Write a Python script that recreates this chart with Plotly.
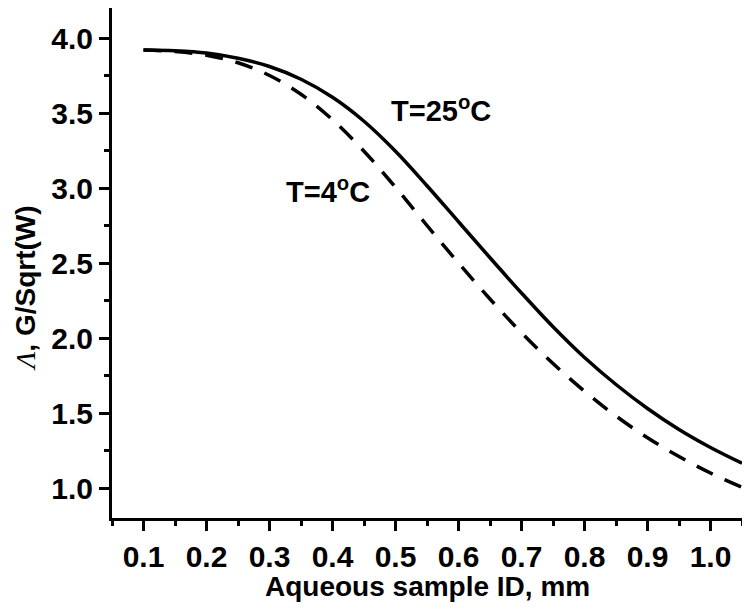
import plotly.graph_objects as go

# sample inner diameter, mm
sample_id = [0.10, 0.15, 0.20, 0.25, 0.30, 0.35, 0.40, 0.45, 0.50, 0.55,
             0.60, 0.65, 0.70, 0.75, 0.80, 0.85, 0.90, 0.95, 1.00, 1.05]

# Lambda, G/Sqrt(W)
lambda_25c = [3.92, 3.915, 3.90, 3.865, 3.81, 3.725, 3.605, 3.445, 3.245, 3.015,
              2.775, 2.535, 2.30, 2.075, 1.87, 1.69, 1.53, 1.39, 1.27, 1.165]
lambda_4c = [3.92, 3.91, 3.885, 3.835, 3.75, 3.625, 3.455, 3.245, 3.005, 2.75,
             2.50, 2.26, 2.035, 1.83, 1.645, 1.48, 1.335, 1.21, 1.10, 1.005]

font_family = "Liberation Sans, Arial, sans-serif"
bold = dict(family=font_family, size=28, color="black", weight="bold")
tick_font = dict(family=font_family, size=30, color="black", weight="bold")

fig = go.Figure()

fig.add_trace(go.Scatter(
    x=sample_id, y=lambda_25c, mode="lines", name="T=25C",
    line=dict(color="black", width=3.5, shape="spline"),
))
fig.add_trace(go.Scatter(
    x=sample_id, y=lambda_4c, mode="lines", name="T=4C",
    line=dict(color="black", width=3.5, shape="spline", dash="18px,13px"),
))

axis_common = dict(
    showgrid=False,
    zeroline=False,
    showline=True,
    linecolor="black",
    linewidth=3,
    mirror=False,
    automargin=False,
    ticks="outside",
    ticklen=10,
    tickwidth=3,
    tickcolor="black",
    tickfont=tick_font,
)

fig.update_xaxes(
    range=[0.05, 1.05],
    tick0=0.1, dtick=0.1,
    tickformat=".1f",
    minor=dict(ticks="outside", ticklen=5, tickwidth=3, tickcolor="black", dtick=0.05, tick0=0.05),
    **axis_common,
)
fig.update_yaxes(
    range=[0.8, 4.2],
    tick0=1.0, dtick=0.5,
    tickformat=".1f",
    minor=dict(ticks="outside", ticklen=5, tickwidth=3, tickcolor="black", dtick=0.25, tick0=0.75),
    **axis_common,
)

# axis titles
fig.add_annotation(
    x=0.5, y=-0.135, xref="paper", yref="paper",
    text="Aqueous sample ID, mm", showarrow=False,
    xanchor="center", yanchor="middle", font=bold,
)
fig.add_annotation(
    x=-0.138, y=0.45, xref="paper", yref="paper",
    text="<i><span style='font-family:Liberation Serif, Times New Roman, serif;font-weight:normal'>Λ</span></i>, G/Sqrt(W)",
    textangle=-90, showarrow=False, xanchor="center", yanchor="middle",
    font=bold,
)

# curve labels
fig.add_annotation(
    x=0.572, y=3.53, text="T=25<sup>o</sup>C", showarrow=False,
    font=dict(family=font_family, size=29, color="black", weight="bold"),
)
fig.add_annotation(
    x=0.393, y=2.99, text="T=4<sup>o</sup>C", showarrow=False,
    font=dict(family=font_family, size=29, color="black", weight="bold"),
)

# the page body adds an 8px margin, so the figure is 16px smaller than the window
fig.update_layout(
    width=734, height=598,
    margin=dict(l=104, r=0, t=0, b=88),
    paper_bgcolor="white",
    plot_bgcolor="white",
    showlegend=False,
    font=dict(family=font_family, color="black"),
)

fig.write_html("out.html")
